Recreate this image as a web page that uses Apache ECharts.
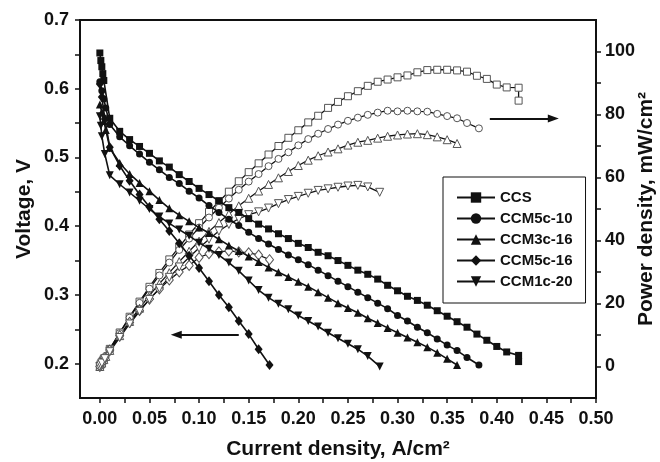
<!DOCTYPE html>
<html>
<head>
<meta charset="utf-8">
<title>Polarization and power density</title>
<script src="https://cdn.jsdelivr.net/npm/echarts@6/dist/echarts.min.js"></script>
<style>
  html, body { margin: 0; padding: 0; background: #fff; }
  #chart { width: 660px; height: 462px; }
</style>
</head>
<body>
<div id="chart"></div>
<script>
// current density (A/cm2), cell voltage (V), power density (mW/cm2)
const ccsI = [0, 0.001, 0.002, 0.003, 0.004, 0.01, 0.02, 0.03, 0.04, 0.05, 0.06, 0.07, 0.08, 0.09, 0.10, 0.11, 0.12, 0.13, 0.14, 0.15, 0.16, 0.17, 0.18, 0.19, 0.20, 0.21, 0.22, 0.23, 0.24, 0.25, 0.26, 0.27, 0.28, 0.29, 0.30, 0.31, 0.32, 0.33, 0.34, 0.35, 0.36, 0.37, 0.38, 0.39, 0.40, 0.41, 0.422, 0.422];
const ccsV = [0.652, 0.641, 0.632, 0.622, 0.612, 0.557, 0.538, 0.526, 0.516, 0.506, 0.495, 0.486, 0.475, 0.465, 0.455, 0.446, 0.437, 0.427, 0.420, 0.411, 0.403, 0.396, 0.389, 0.382, 0.375, 0.369, 0.362, 0.357, 0.350, 0.343, 0.336, 0.330, 0.323, 0.314, 0.306, 0.298, 0.292, 0.285, 0.277, 0.269, 0.261, 0.253, 0.243, 0.234, 0.225, 0.217, 0.212, 0.203];
const ccsP = [0, 0.6, 1.3, 1.9, 2.4, 5.6, 10.8, 15.8, 20.6, 25.3, 29.7, 34.0, 38.0, 41.9, 45.5, 49.1, 52.4, 55.5, 58.8, 61.7, 64.5, 67.3, 70.0, 72.6, 75.0, 77.5, 79.6, 82.1, 84.0, 85.8, 87.4, 89.1, 90.4, 91.1, 91.8, 92.4, 93.4, 94.1, 94.2, 94.2, 94.0, 93.6, 92.3, 91.3, 89.5, 88.6, 88.5, 84.4];

const c510I = [0, 0.002, 0.004, 0.006, 0.01, 0.02, 0.03, 0.04, 0.05, 0.06, 0.07, 0.08, 0.09, 0.10, 0.11, 0.12, 0.13, 0.14, 0.15, 0.16, 0.17, 0.18, 0.19, 0.20, 0.21, 0.22, 0.23, 0.24, 0.25, 0.26, 0.27, 0.28, 0.29, 0.30, 0.31, 0.32, 0.33, 0.34, 0.35, 0.36, 0.37, 0.382];
const c510V = [0.610, 0.597, 0.585, 0.572, 0.548, 0.530, 0.517, 0.505, 0.493, 0.482, 0.471, 0.462, 0.451, 0.441, 0.430, 0.420, 0.410, 0.401, 0.391, 0.382, 0.374, 0.366, 0.358, 0.351, 0.344, 0.336, 0.328, 0.320, 0.312, 0.304, 0.296, 0.288, 0.280, 0.270, 0.262, 0.253, 0.245, 0.236, 0.227, 0.219, 0.209, 0.198];
const c510P = [0, 1.2, 2.3, 3.4, 5.5, 10.6, 15.5, 20.2, 24.7, 28.9, 33.0, 37.0, 40.6, 44.1, 47.3, 50.4, 53.3, 56.1, 58.7, 61.1, 63.6, 65.9, 68.0, 70.2, 72.2, 73.9, 75.4, 76.8, 78.0, 79.0, 79.9, 80.6, 81.2, 81.0, 81.2, 81.0, 80.9, 80.2, 79.5, 78.8, 77.3, 75.6];

const c316I = [0, 0.002, 0.004, 0.006, 0.01, 0.02, 0.03, 0.04, 0.05, 0.06, 0.07, 0.08, 0.09, 0.10, 0.11, 0.12, 0.13, 0.14, 0.15, 0.16, 0.17, 0.18, 0.19, 0.20, 0.21, 0.22, 0.23, 0.24, 0.25, 0.26, 0.27, 0.28, 0.29, 0.30, 0.31, 0.32, 0.33, 0.34, 0.35, 0.36];
const c316V = [0.577, 0.566, 0.553, 0.540, 0.514, 0.492, 0.476, 0.463, 0.451, 0.438, 0.426, 0.416, 0.407, 0.398, 0.390, 0.381, 0.372, 0.364, 0.356, 0.348, 0.340, 0.333, 0.326, 0.319, 0.312, 0.304, 0.296, 0.288, 0.281, 0.274, 0.266, 0.259, 0.252, 0.245, 0.238, 0.231, 0.224, 0.216, 0.207, 0.198];
const c316P = [0, 1.1, 2.2, 3.2, 5.1, 9.8, 14.3, 18.5, 22.6, 26.3, 29.8, 33.3, 36.6, 39.8, 42.9, 45.7, 48.4, 51.0, 53.4, 55.7, 57.8, 59.9, 61.9, 63.8, 65.5, 66.9, 68.1, 69.1, 70.3, 71.2, 71.8, 72.5, 73.1, 73.5, 73.8, 73.9, 73.6, 72.9, 72.0, 70.8];

const c516I = [0, 0.002, 0.005, 0.01, 0.02, 0.03, 0.04, 0.05, 0.06, 0.07, 0.08, 0.09, 0.10, 0.11, 0.12, 0.13, 0.14, 0.15, 0.16, 0.171];
const c516V = [0.607, 0.588, 0.556, 0.515, 0.488, 0.466, 0.446, 0.428, 0.410, 0.393, 0.375, 0.357, 0.339, 0.320, 0.300, 0.282, 0.262, 0.243, 0.221, 0.198];
const c516P = [0, 1.2, 2.8, 5.2, 9.8, 14.0, 17.8, 21.4, 24.6, 27.5, 30.0, 32.1, 34.6, 35.8, 36.4, 36.7, 36.4, 36.1, 35.4, 33.9];

const c120I = [0, 0.001, 0.002, 0.005, 0.01, 0.02, 0.03, 0.04, 0.05, 0.06, 0.07, 0.08, 0.09, 0.10, 0.11, 0.12, 0.13, 0.14, 0.15, 0.16, 0.17, 0.18, 0.19, 0.20, 0.21, 0.22, 0.23, 0.24, 0.25, 0.26, 0.27, 0.282];
const c120V = [0.560, 0.546, 0.531, 0.505, 0.474, 0.461, 0.449, 0.437, 0.425, 0.414, 0.404, 0.395, 0.386, 0.376, 0.367, 0.358, 0.347, 0.335, 0.321, 0.307, 0.296, 0.287, 0.279, 0.270, 0.262, 0.254, 0.245, 0.237, 0.229, 0.221, 0.211, 0.196];
const c120P = [0, 0.5, 1.1, 2.5, 4.7, 9.2, 13.5, 17.5, 21.3, 24.8, 28.3, 31.6, 34.7, 37.6, 40.4, 43.0, 45.1, 46.9, 48.2, 49.1, 50.3, 51.7, 53.0, 54.0, 55.0, 55.9, 56.4, 56.9, 57.3, 57.5, 57.0, 55.3];

const names = ["CCS", "CCM5c-10", "CCM3c-16", "CCM5c-16", "CCM1c-20"];
const xLabels = [0, 0.05, 0.1, 0.15, 0.2, 0.25, 0.3, 0.35, 0.4, 0.45, 0.5];
const xTicks = [0, 0.025, 0.05, 0.075, 0.1, 0.125, 0.15, 0.175, 0.2, 0.225, 0.25, 0.275, 0.3, 0.325, 0.35, 0.375, 0.4, 0.425, 0.45, 0.475, 0.5];
const vLabels = [0.2, 0.3, 0.4, 0.5, 0.6, 0.7];
const vTicks = [0.2, 0.25, 0.3, 0.35, 0.4, 0.45, 0.5, 0.55, 0.6, 0.65, 0.7];
const pLabels = [0, 20, 40, 60, 80, 100];
const pTicks = [0, 10, 20, 30, 40, 50, 60, 70, 80, 90, 100];

const FONT = "'Liberation Sans', Arial, sans-serif";
const INK = "#111";

const groups = [
  { name: names[0], I: ccsI, V: ccsV, P: ccsP, symbol: "rect", size: 7, rotate: 0 },
  { name: names[1], I: c510I, V: c510V, P: c510P, symbol: "circle", size: 7, rotate: 0 },
  { name: names[2], I: c316I, V: c316V, P: c316P, symbol: "triangle", size: 8, rotate: 0 },
  { name: names[3], I: c516I, V: c516V, P: c516P, symbol: "diamond", size: [8, 10], rotate: 0 },
  { name: names[4], I: c120I, V: c120V, P: c120P, symbol: "triangle", size: 8, rotate: 180 },
];

const series = [];
groups.forEach((g) => {
  series.push({
    name: g.name,
    type: "line",
    yAxisIndex: 0,
    data: g.I.map((x, i) => [x, g.V[i]]),
    symbol: g.symbol,
    symbolSize: g.size,
    symbolRotate: g.rotate,
    showAllSymbol: true,
    lineStyle: { color: INK, width: 1.6 },
    itemStyle: { color: INK, borderWidth: 0 },
    z: 3,
  });
});
groups.forEach((g) => {
  series.push({
    name: g.name + " power",
    type: "line",
    yAxisIndex: 1,
    data: g.I.map((x, i) => [x, g.P[i]]),
    symbol: g.symbol,
    symbolSize: g.size,
    symbolRotate: g.rotate,
    showAllSymbol: true,
    lineStyle: { color: INK, width: 1.3 },
    itemStyle: { color: "#fff", borderColor: "#555", borderWidth: 1 },
    z: 2,
  });
});

// arrows pointing at the axis each family belongs to
const arrowStyle = {
  silent: true,
  symbol: ["none", "triangle"],
  symbolSize: [8, 11],
  label: { show: false },
  lineStyle: { color: INK, width: 2, type: "solid" },
  emphasis: { disabled: true },
};
series[4].markLine = Object.assign({}, arrowStyle, {
  data: [[{ coord: [0.140, 0.242] }, { coord: [0.077, 0.242] }]],
});
series[9].markLine = Object.assign({}, arrowStyle, {
  data: [[{ coord: [0.393, 78.7] }, { coord: [0.457, 78.7] }]],
});

const labelStyle = { color: INK, fontFamily: FONT, fontWeight: "bold", fontSize: 18 };
const nameStyle = { color: INK, fontFamily: FONT, fontWeight: "bold", fontSize: 21 };
const axisLine = { show: true, onZero: false, lineStyle: { color: INK, width: 2 } };

const option = {
  animation: false,
  backgroundColor: "#fff",
  textStyle: { fontFamily: FONT },
  grid: {
    left: 80,
    right: 64,
    top: 20,
    bottom: 64,
    containLabel: false,
    outerBoundsMode: "none",
    show: true,
    borderColor: INK,
    borderWidth: 2,
    backgroundColor: "transparent",
  },
  legend: {
    data: names,
    orient: "vertical",
    left: 443,
    top: 177,
    padding: [13, 13, 14, 13],
    itemWidth: 38,
    itemHeight: 13,
    itemGap: 6,
    borderColor: INK,
    borderWidth: 1,
    backgroundColor: "#fff",
    textStyle: { color: INK, fontFamily: FONT, fontWeight: "bold", fontSize: 15 },
  },
  xAxis: {
    type: "value",
    min: -0.02,
    max: 0.5,
    name: "Current density, A/cm²",
    nameLocation: "middle",
    nameGap: 41,
    nameMoveOverlap: false,
    nameTextStyle: nameStyle,
    axisLine: axisLine,
    axisTick: { show: true, inside: false, length: 5, customValues: xTicks, lineStyle: { color: INK, width: 1.5 } },
    axisLabel: Object.assign({ margin: 12, customValues: xLabels, formatter: (v) => v.toFixed(2) }, labelStyle),
    splitLine: { show: false },
  },
  yAxis: [
    {
      type: "value",
      position: "left",
      min: 0.15,
      max: 0.7,
      name: "Voltage, V",
      nameLocation: "middle",
      nameRotate: 90,
      nameGap: 45,
      nameMoveOverlap: false,
      nameTextStyle: nameStyle,
      axisLine: axisLine,
      axisTick: { show: true, inside: false, length: 5, customValues: vTicks, lineStyle: { color: INK, width: 1.5 } },
      axisLabel: Object.assign({ margin: 11, customValues: vLabels, formatter: (v) => v.toFixed(1) }, labelStyle),
      splitLine: { show: false },
    },
    {
      type: "value",
      position: "right",
      min: -10,
      max: 110,
      name: "Power density, mW/cm²",
      nameLocation: "middle",
      nameRotate: 90,
      nameGap: 40,
      nameMoveOverlap: false,
      nameTextStyle: nameStyle,
      axisLine: axisLine,
      axisTick: { show: true, inside: false, length: 5, customValues: pTicks, lineStyle: { color: INK, width: 1.5 } },
      axisLabel: Object.assign({ margin: 9, customValues: pLabels, formatter: (v) => String(Math.round(v)) }, labelStyle),
      splitLine: { show: false },
    },
  ],
  series: series,
};

const chart = echarts.init(document.getElementById("chart"), null, { renderer: "canvas" });
chart.setOption(option);
</script>
</body>
</html>
